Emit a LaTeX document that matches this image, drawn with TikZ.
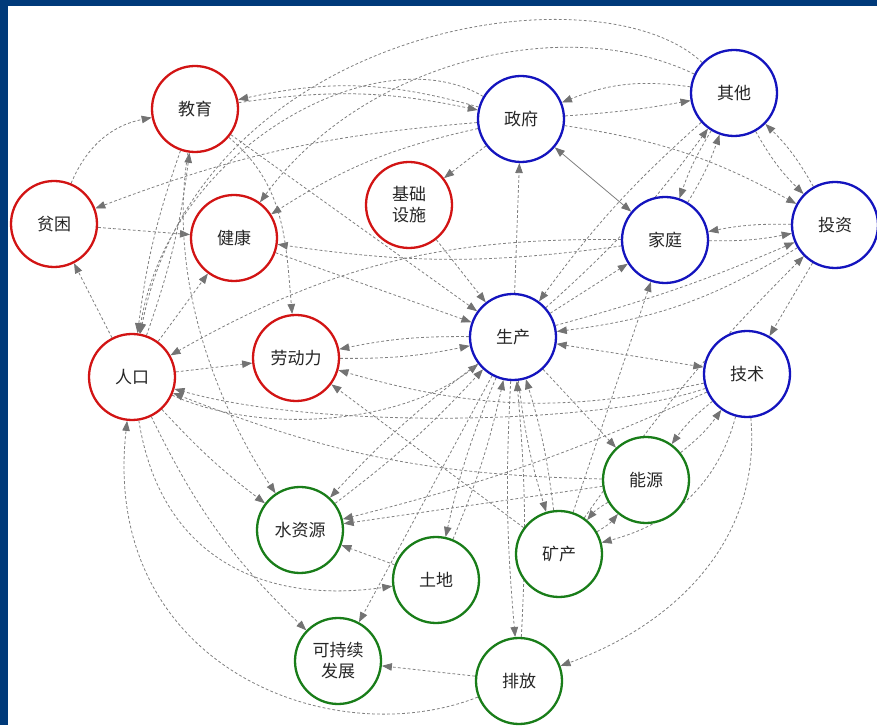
\documentclass[tikz,border=0pt]{standalone}
\usepackage{fontspec}
\newfontfamily\cjk{Noto Sans CJK SC}
\usetikzlibrary{arrows.meta,backgrounds}

\definecolor{navy}{RGB}{0,58,122}
\definecolor{nred}{RGB}{210,20,20}
\definecolor{nblue}{RGB}{20,20,190}
\definecolor{ngreen}{RGB}{25,125,25}
\definecolor{edgegray}{RGB}{128,128,128}
\definecolor{tipgray}{RGB}{115,115,115}

\tikzset{
  nd/.style={circle, minimum size=86pt, inner sep=0pt, line width=2.3pt,
    fill=white, text=black!85, align=center,
    font=\cjk\fontsize{17}{21}\selectfont},
  rn/.style={nd, draw=nred},
  bn/.style={nd, draw=nblue},
  gn/.style={nd, draw=ngreen},
  ar/.style={draw=edgegray, line width=0.8pt, dash pattern=on 2.8pt off 2.2pt,
    -{Triangle[length=10pt,width=7.5pt,color=tipgray]}},
  biar/.style={ar, {Triangle[length=10pt,width=7.5pt,color=tipgray]}-{Triangle[length=10pt,width=7.5pt,color=tipgray]}},
  solidar/.style={biar, solid}
}

\begin{document}
\begin{tikzpicture}[x=1pt,y=1pt]
\useasboundingbox (0,0) rectangle (877,725);
\begin{scope}[on background layer]
  \fill[navy] (0,0) rectangle (877,725);
  \fill[white] (8,0) rectangle (877,719);
\end{scope}

% social factors (red)
\node[rn] (jy)  at (195,616) {教育};
\node[rn] (pk)  at (54,501)  {贫困};
\node[rn] (jk)  at (234,487) {健康};
\node[rn] (jc)  at (409,520) {基础\\设施};
\node[rn] (rk)  at (132,348) {人口};
\node[rn] (ldl) at (296,367) {劳动力};
% economic actors (blue)
\node[bn] (zf)  at (521,606) {政府};
\node[bn] (qt)  at (734,632) {其他};
\node[bn] (jt)  at (665,485) {家庭};
\node[bn] (tz)  at (835,500) {投资};
\node[bn] (sc)  at (513,388) {生产};
\node[bn] (js)  at (747,351) {技术};
% resources and environment (green)
\node[gn] (ny)  at (646,245) {能源};
\node[gn] (szy) at (300,195) {水资源};
\node[gn] (td)  at (436,145) {土地};
\node[gn] (kcx) at (338,64)  {可持续\\发展};
\node[gn] (kc)  at (559,171) {矿产};
\node[gn] (pf)  at (519,44)  {排放};

\begin{scope}[on background layer]
% upper cluster
\draw[ar] (qt) to[bend right=15] (zf);
\draw[ar] (zf) to[bend right=3] (qt);
\draw[ar] (zf) to[bend left=10] (tz);
\draw[ar] (qt) to[bend right=8] (tz);
\draw[ar] (tz) to[bend right=8] (qt);
\draw[solidar] (zf) -- (jt);
\draw[ar] (jt) to[bend right=6] (tz);
\draw[ar] (tz) to[bend right=6] (jt);
\draw[ar] (qt) to[bend right=6] (jt);
\draw[ar] (jt) to[bend right=6] (qt);
\draw[ar] (zf) to[bend right=14] (jy);
\draw[ar] (jy) to[bend left=10] (zf);
\draw[ar] (qt) .. controls (600,760) and (200,700) .. (rk);
\draw[ar] (qt) .. controls (560,715) and (360,660) .. (jk);
\draw[ar] (zf) to[bend right=10] (jk);
\draw[ar] (zf) to[bend right=8] (pk);
\draw[ar] (zf) .. controls (380,690) and (170,580) .. (rk);
\draw[ar] (zf) -- (jc);

% left cluster
\draw[ar] (pk) to[bend left=28] (jy);
\draw[ar] (pk) -- (jk);
\draw[ar] (rk) -- (pk);
\draw[ar] (jy) to[bend right=6] (rk);
\draw[ar] (rk) to[bend right=6] (jy);
\draw[ar] (rk) -- (jk);
\draw[ar] (rk) -- (ldl);
\draw[ar] (jt) to[bend right=15] (rk);
\draw[ar] (js) .. controls (600,300) and (320,295) .. (rk);
\draw[ar] (ny) to[bend left=10] (rk);
\draw[ar] (pf) .. controls (330,-30) and (100,60) .. (rk);
\draw[ar] (rk) to[bend right=5] (szy);
\draw[ar] (rk) to[bend right=10] (kcx);
\draw[ar] (rk) .. controls (160,170) and (260,120) .. (td);
\draw[ar] (jt) to[bend left=8] (jk);
\draw[ar] (jy) .. controls (165,430) and (230,300) .. (szy);
\draw[ar] (jy) to[out=-40,in=95] (ldl);

% links around production
\draw[ar] (jy) -- (sc);
\draw[ar] (jk) -- (sc);
\draw[ar] (jc) -- (sc);
\draw[ar] (ldl) to[bend right=6] (sc);
\draw[ar] (sc) to[bend right=6] (ldl);
\draw[ar] (rk) .. controls (260,290) and (400,300) .. (sc);
\draw[ar] (szy) to[bend right=5] (sc);
\draw[ar] (sc) to[bend right=5] (szy);
\draw[ar] (td) to[bend right=5] (sc);
\draw[ar] (sc) to[bend right=5] (td);
\draw[ar] (kc) to[bend right=5] (sc);
\draw[ar] (sc) to[bend right=5] (kc);
\draw[ar] (pf) to[bend right=4] (sc);
\draw[ar] (sc) to[bend right=4] (pf);
\draw[ar] (sc) -- (zf);
\draw[ar] (qt) to[bend right=6] (sc);
\draw[ar] (sc) to[bend right=6] (qt);
\draw[ar] (sc) -- (jt);
\draw[biar] (sc) -- (js);
\draw[ar] (tz) to[bend left=12] (sc);
\draw[ar] (sc) to[bend right=4] (tz);
\draw[ar] (sc) -- (kcx);
\draw[ar] (sc) -- (ny);

% right and lower part
\draw[ar] (tz) -- (js);
\draw[ar] (ny) to[bend right=8] (js);
\draw[ar] (js) to[bend right=8] (ny);
\draw[ar] (js) to[out=-105,in=15] (kc);
\draw[ar] (js) to[out=-85,in=20] (pf);
\draw[ar] (kc) to[bend right=10] (ny);
\draw[ar] (ny) to[bend right=10] (kc);
\draw[ar] (kc) to[bend left=5] (tz);
\draw[ar] (kc) -- (jt);
\draw[ar] (kc) -- (ldl);
\draw[ar] (js) to[bend left=14] (ldl);
\draw[ar] (js) to[bend left=5] (szy);
\draw[ar] (ny) -- (szy);
\draw[ar] (td) -- (szy);
\draw[ar] (pf) -- (kcx);
\end{scope}
\end{tikzpicture}
\end{document}
